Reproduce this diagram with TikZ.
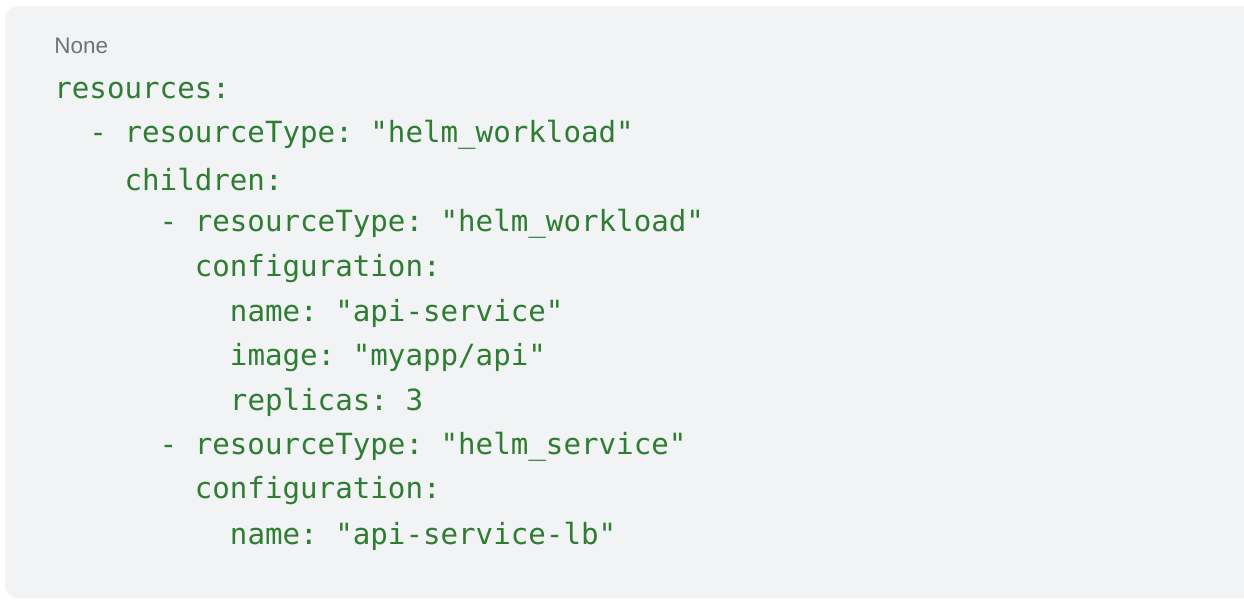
\documentclass[tikz,border=0pt]{standalone}
\usepackage{fontspec}
\setmainfont{Liberation Sans}
\setmonofont{DejaVu Sans Mono}
\usetikzlibrary{positioning}
\definecolor{codebg}{HTML}{F1F3F4}
\definecolor{codegreen}{HTML}{2E7D32}
\definecolor{labelgray}{HTML}{6F7377}

\begin{document}
\begin{tikzpicture}[
    x=0.02cm, y=-0.02cm,
    codeline/.style={anchor=west, inner sep=0pt, text=codegreen, font=\ttfamily\fontsize{16.6}{20}\selectfont},
    langlabel/.style={anchor=west, inner sep=0pt, text=labelgray, font=\fontsize{12.8}{15}\selectfont}
]
\useasboundingbox (0,0) rectangle (1244,600);

% Background panel
\fill[codebg, rounded corners=0.25cm] (5,6) rectangle (1260,598);

% Language label
\node[langlabel] (lang) at (54,46) {None};

% Code lines
\node[codeline] (l1) at (54,91) {resources:};
\node[codeline] (l2) at (54,135) {\ \ - resourceType: "helm\_workload"};
\node[codeline] (l3) at (54,180) {\ \ \ \ children:};
\node[codeline] (l4) at (54,224) {\ \ \ \ \ \ - resourceType: "helm\_workload"};
\node[codeline] (l5) at (54,269) {\ \ \ \ \ \ \ \ configuration:};
\node[codeline] (l6) at (54,313) {\ \ \ \ \ \ \ \ \ \ name: "api-service"};
\node[codeline] (l7) at (54,358) {\ \ \ \ \ \ \ \ \ \ image: "myapp/api"};
\node[codeline] (l8) at (54,402) {\ \ \ \ \ \ \ \ \ \ replicas: 3};
\node[codeline] (l9) at (54,447) {\ \ \ \ \ \ - resourceType: "helm\_service"};
\node[codeline] (l10) at (54,491) {\ \ \ \ \ \ \ \ configuration:};
\node[codeline] (l11) at (54,536) {\ \ \ \ \ \ \ \ \ \ name: "api-service-lb"};

\end{tikzpicture}
\end{document}
